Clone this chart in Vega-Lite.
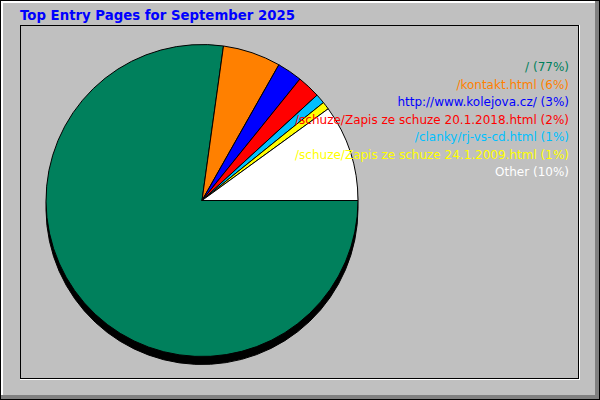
{
  "$schema": "https://vega.github.io/schema/vega-lite/v6.json",
  "width": 558,
  "height": 353,
  "autosize": "none",
  "padding": {"left": 20, "top": 25, "right": 22, "bottom": 22},
  "background": "#C0C0C0",
  "config": {
    "view": {"stroke": null},
    "font": "DejaVu Sans"
  },
  "title": {
    "text": "Top Entry Pages for September 2025",
    "anchor": "start",
    "frame": "group",
    "color": "#0000FF",
    "font": "DejaVu Sans",
    "fontSize": 13.3,
    "fontWeight": "bold",
    "baseline": "alphabetic",
    "offset": 7,
    "dy": 40
  },
  "data": {
    "values": [
      {"rank": 1, "page": "/", "label": "/ (77%)", "hits": 77.2},
      {"rank": 2, "page": "/kontakt.html", "label": "/kontakt.html (6%)", "hits": 6.0},
      {"rank": 3, "page": "http://www.kolejova.cz/", "label": "http://www.kolejova.cz/ (3%)", "hits": 2.6},
      {"rank": 4, "page": "/schuze/Zapis ze schuze 20.1.2018.html", "label": "/schuze/Zapis ze schuze 20.1.2018.html (2%)", "hits": 2.4},
      {"rank": 5, "page": "/clanky/rj-vs-cd.html", "label": "/clanky/rj-vs-cd.html (1%)", "hits": 1.0},
      {"rank": 6, "page": "/schuze/Zapis ze schuze 24.1.2009.html", "label": "/schuze/Zapis ze schuze 24.1.2009.html (1%)", "hits": 0.8},
      {"rank": 7, "page": "Other", "label": "Other (10%)", "hits": 10.0}
    ]
  },
  "layer": [
    {
      "data": {"values": [{"part": "frame"}]},
      "mark": {"type": "rect", "color": "black", "xOffset": -20, "x2Offset": 22, "yOffset": -25, "y2Offset": 22},
      "encoding": {"x": {"value": 0}, "x2": {"value": "width"}, "y": {"value": 0}, "y2": {"value": "height"}}
    },
    {
      "data": {"values": [{"part": "frame"}]},
      "mark": {"type": "rect", "color": "#808080", "xOffset": -19, "x2Offset": 21, "yOffset": -24, "y2Offset": 21},
      "encoding": {"x": {"value": 0}, "x2": {"value": "width"}, "y": {"value": 0}, "y2": {"value": "height"}}
    },
    {
      "data": {"values": [{"part": "frame"}]},
      "mark": {"type": "rect", "color": "white", "xOffset": -19, "x2Offset": 17, "yOffset": -24, "y2Offset": 17},
      "encoding": {"x": {"value": 0}, "x2": {"value": "width"}, "y": {"value": 0}, "y2": {"value": "height"}}
    },
    {
      "data": {"values": [{"part": "frame"}]},
      "mark": {"type": "rect", "color": "#C0C0C0", "xOffset": -17, "x2Offset": 17, "yOffset": -22, "y2Offset": 17},
      "encoding": {"x": {"value": 0}, "x2": {"value": "width"}, "y": {"value": 0}, "y2": {"value": "height"}}
    },
    {
      "data": {"values": [{"part": "box"}]},
      "mark": {"type": "rect", "color": "white", "xOffset": 0, "x2Offset": 2, "yOffset": 0, "y2Offset": 2},
      "encoding": {"x": {"value": 0}, "x2": {"value": "width"}, "y": {"value": 0}, "y2": {"value": "height"}}
    },
    {
      "data": {"values": [{"part": "box"}]},
      "mark": {"type": "rect", "color": "black", "xOffset": 0, "x2Offset": 1, "yOffset": 0, "y2Offset": 1},
      "encoding": {"x": {"value": 0}, "x2": {"value": "width"}, "y": {"value": 0}, "y2": {"value": "height"}}
    },
    {
      "data": {"values": [{"part": "box"}]},
      "mark": {"type": "rect", "color": "#C0C0C0", "xOffset": 1, "x2Offset": 0, "yOffset": 1, "y2Offset": 0},
      "encoding": {"x": {"value": 0}, "x2": {"value": "width"}, "y": {"value": 0}, "y2": {"value": "height"}}
    },
    {
      "mark": {"type": "arc", "radius": 156, "xOffset": -97, "yOffset": 7, "color": "black", "stroke": "black"},
      "encoding": {
        "theta": {"field": "hits", "type": "quantitative", "stack": true, "scale": {"range": [1.5708, 7.854]}},
        "order": {"field": "rank", "type": "ordinal"}
      }
    },
    {
      "mark": {"type": "arc", "radius": 156, "xOffset": -97, "yOffset": -1, "stroke": "black", "strokeWidth": 1},
      "encoding": {
        "theta": {"field": "hits", "type": "quantitative", "stack": true, "scale": {"range": [1.5708, 7.854]}},
        "order": {"field": "rank", "type": "ordinal"},
        "color": {
          "field": "label",
          "type": "nominal",
          "sort": null,
          "scale": {
            "domain": [
              "/ (77%)",
              "/kontakt.html (6%)",
              "http://www.kolejova.cz/ (3%)",
              "/schuze/Zapis ze schuze 20.1.2018.html (2%)",
              "/clanky/rj-vs-cd.html (1%)",
              "/schuze/Zapis ze schuze 24.1.2009.html (1%)",
              "Other (10%)"
            ],
            "range": ["#00805C", "#FF8000", "#0000FF", "#FF0000", "#00C0FF", "#FFFF00", "#FFFFFF"]
          },
          "legend": {
            "orient": "none",
            "legendX": 537,
            "legendY": 36,
            "title": null,
            "symbolSize": 0,
            "symbolStrokeWidth": 0,
            "symbolOpacity": 0,
            "labelAlign": "right",
            "labelOffset": 0,
            "labelFont": "DejaVu Sans",
            "labelFontSize": 12,
            "labelLimit": 500,
            "rowPadding": 5.5,
            "padding": 0,
            "labelColor": {"expr": "scale('color', datum.value)"}
          }
        }
      }
    }
  ]
}
